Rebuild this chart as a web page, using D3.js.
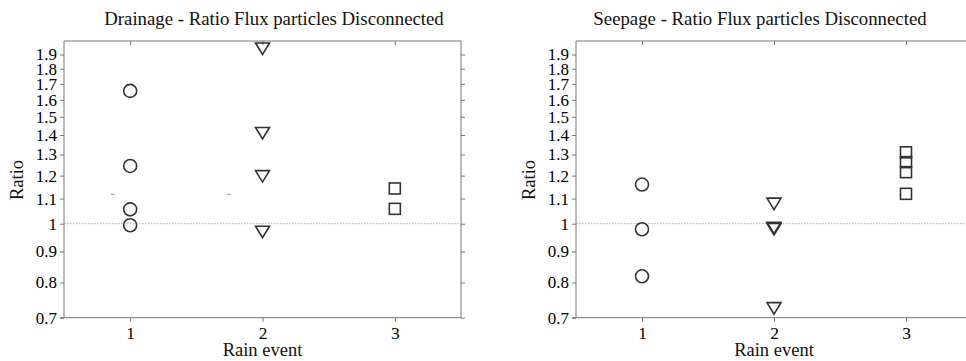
<!DOCTYPE html>
<html>
<head>
<meta charset="utf-8">
<script src="https://cdn.jsdelivr.net/npm/d3@7"></script>
<style>
  body { margin: 0; background: #fff; }
  svg { display: block; }
  svg text { font-family: "Liberation Serif", "Times New Roman", serif; }
</style>
</head>
<body>
<div id="chart"></div>
<script>
// values
const events = [1, 2, 3];
const yTicks = [0.7, 0.8, 0.9, 1, 1.1, 1.2, 1.3, 1.4, 1.5, 1.6, 1.7, 1.8, 1.9];

const drainageEvent1 = [1.655, 1.245, 1.056, 0.994];
const drainageEvent2 = [1.944, 1.411, 1.198, 0.970];
const drainageEvent3 = [1.143, 1.058];
// two tiny grey dashes that sit in the drainage panel
const drainageStray = [[0.869, 1.118], [1.745, 1.118]];

const seepageEvent1 = [1.160, 0.979, 0.819];
const seepageEvent2 = [1.079, 0.985, 0.980, 0.726];
const seepageEvent3 = [1.311, 1.263, 1.216, 1.120];

const W = 966, H = 361;

const svg = d3.select('#chart').append('svg')
    .attr('width', W)
    .attr('height', H);

const panels = [
    {
        title: 'Drainage - Ratio Flux particles Disconnected',
        left: 64, right: 461, titleX: 274,
        series: [drainageEvent1, drainageEvent2, drainageEvent3],
        stray: drainageStray
    },
    {
        title: 'Seepage - Ratio Flux particles Disconnected',
        left: 576, right: 972, titleX: 760,
        series: [seepageEvent1, seepageEvent2, seepageEvent3],
        stray: []
    }
];

const plotTop = 41, plotBottom = 317.7;
const ink = '#333';
const frameColor = '#777';

const markers = [
    // circle
    (g) => g.append('circle').attr('r', 6.5),
    // down-pointing triangle, centred on its box
    (g) => g.append('path').attr('d', 'M-7,-5.5L7,-5.5L0,6Z'),
    // square
    (g) => g.append('rect').attr('x', -5.5).attr('y', -5.5).attr('width', 11).attr('height', 11)
];

const y = d3.scaleLog().domain([0.7, 2.0]).range([plotBottom, plotTop]);

panels.forEach((p) => {
    const x = d3.scaleLinear().domain([0.5, 3.5]).range([p.left, p.right]);
    const g = svg.append('g');

    // reference line at ratio 1
    g.append('line')
        .attr('x1', p.left).attr('x2', p.right)
        .attr('y1', y(1)).attr('y2', y(1))
        .attr('stroke', '#aaa')
        .attr('stroke-width', 1)
        .attr('stroke-dasharray', '1.5,1.5');

    g.selectAll('line.stray')
        .data(p.stray)
        .join('line')
        .attr('class', 'stray')
        .attr('x1', (d) => x(d[0]) - 2).attr('x2', (d) => x(d[0]) + 2)
        .attr('y1', (d) => y(d[1])).attr('y2', (d) => y(d[1]))
        .attr('stroke', '#999');

    // axes: outward ticks left/bottom, inward ticks right/top
    const axisStyle = (a) => {
        a.attr('font-family', null).attr('font-size', null);
        a.select('.domain').attr('stroke', frameColor);
        a.selectAll('.tick line').attr('stroke', frameColor);
        a.selectAll('.tick text')
            .attr('fill', '#000')
            .style('font-family', '"Liberation Serif", serif')
            .style('font-size', '17px');
    };

    g.append('g')
        .attr('transform', `translate(${p.left},0)`)
        .call(d3.axisLeft(y).tickValues(yTicks).tickFormat(d3.format('')).tickSizeInner(4).tickSizeOuter(0).tickPadding(3))
        .call(axisStyle)
        .call((a) => a.select('.domain').attr('d', `M0,${plotBottom}V${plotTop}`));

    g.append('g')
        .attr('transform', `translate(${p.right},0)`)
        .call(d3.axisLeft(y).tickValues(yTicks).tickFormat('').tickSizeInner(-4).tickSizeOuter(0))
        .call(axisStyle)
        .call((a) => a.select('.domain').attr('d', `M0,${plotBottom}V${plotTop}`));

    g.append('g')
        .attr('transform', `translate(0,${plotBottom})`)
        .call(d3.axisBottom(x).tickValues(events).tickFormat(d3.format('d')).tickSizeInner(4).tickSizeOuter(0).tickPadding(5))
        .call(axisStyle)
        .call((a) => a.select('.domain').attr('d', `M${p.left - 4},0H${p.right}`))
        .call((a) => a.selectAll('.tick text').style('font-size', '17.5px'));

    g.append('g')
        .attr('transform', `translate(0,${plotTop})`)
        .call(d3.axisTop(x).tickValues(events).tickFormat('').tickSizeInner(-4).tickSizeOuter(0))
        .call(axisStyle)
        .call((a) => a.select('.domain').attr('d', `M${p.left},0H${p.right}`));

    // markers
    p.series.forEach((vals, i) => {
        g.append('g')
            .selectAll('g')
            .data(vals)
            .join('g')
            .attr('transform', (d) => `translate(${x(events[i])},${y(d)})`)
            .each(function () { markers[i](d3.select(this)); })
            .selectAll('*')
            .attr('fill', 'none')
            .attr('stroke', ink)
            .attr('stroke-width', 1.6);
    });

    // labels
    g.append('text')
        .attr('x', p.titleX).attr('y', 25)
        .attr('text-anchor', 'middle')
        .style('font-size', '18.8px')
        .attr('fill', '#111')
        .text(p.title);

    g.append('text')
        .attr('x', x(2)).attr('y', 356)
        .attr('text-anchor', 'middle')
        .style('font-size', '18.5px')
        .attr('fill', '#111')
        .text('Rain event');

    g.append('text')
        .attr('transform', `translate(${p.left - 41},180) rotate(-90)`)
        .attr('text-anchor', 'middle')
        .style('font-size', '18.5px')
        .attr('fill', '#111')
        .text('Ratio');
});
</script>
</body>
</html>
